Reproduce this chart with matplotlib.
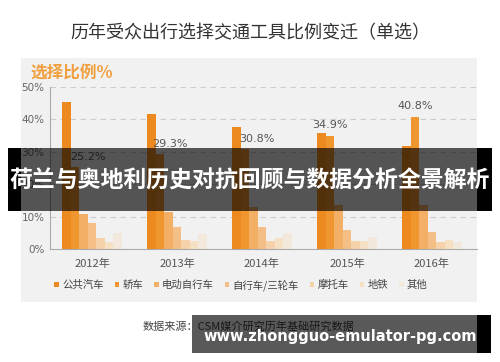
import matplotlib
matplotlib.use("Agg")
import matplotlib.pyplot as plt
from matplotlib.patches import Rectangle
import numpy as np

plt.rcParams['font.family'] = ['Noto Sans CJK SC', 'DejaVu Sans']

years = ['2012年', '2013年', '2014年', '2015年', '2016年']
modes = ['公共汽车', '轿车', '电动自行车', '自行车/三轮车', '摩托车', '地铁', '其他']
bus = [45.3, 41.6, 37.8, 35.9, 31.8]
car = [25.2, 29.3, 30.8, 34.9, 40.8]
ebike = [10.8, 11.5, 13.1, 13.6, 13.6]
bicycle = [8.1, 6.8, 6.9, 5.9, 5.2]
moto = [3.3, 2.8, 2.6, 2.6, 2.1]
subway = [2.3, 2.6, 3.4, 2.6, 2.8]
other = [4.9, 4.6, 4.8, 3.8, 2.2]
car_labels = ['25.2%', '29.3%', '30.8%', '34.9%', '40.8%']
yticks = [0, 10, 20, 30, 40, 50]
ytick_labels = ['0%', '10%', '20%', '30%', '40%', '50%']

series = [bus, car, ebike, bicycle, moto, subway, other]
colors = ['#EC8A1F', '#F0962E', '#F3AF65', '#F4BF86', '#F6D2AA', '#F6E0C4', '#F2E9DC']

W, H = 500, 362
fig = plt.figure(figsize=(W / 100, H / 100), dpi=100)
fig.patch.set_facecolor('white')

def fx(px):
    return px / W

def fy(py):
    return 1 - py / H

# gray panel
fig.add_artist(Rectangle((fx(21), fy(302)), fx(477) - fx(21), fy(58) - fy(302),
                         transform=fig.transFigure, facecolor='#F1F1F1', edgecolor='none', zorder=-1))

ax = fig.add_axes([fx(50), fy(249), fx(477) - fx(50), fy(87) - fy(249)])
ax.set_facecolor('none')

x = np.arange(len(years))
bw = 0.1
offsets = (np.arange(len(series)) - 3) * bw
bars = []
for s, vals, c, off in zip(modes, series, colors, offsets):
    b = ax.bar(x + off, vals, width=bw, color=c, label=s, zorder=2)
    bars.append(b)

label_dx = [0.15, 0.12, 0.14, 0.0, 0.0]
for i, (v, lab) in enumerate(zip(car, car_labels)):
    ax.annotate(lab, (x[i] + offsets[1] + label_dx[i], v), xytext=(0, 4),
                textcoords='offset points', ha='center', va='bottom',
                fontsize=8, color='#555555', family=['DejaVu Sans'])

ax.set_xlim(-0.494, 4.53)
ax.set_ylim(0, 50)
ax.set_yticks(yticks)
ax.set_yticklabels(ytick_labels, fontsize=7.5, color='#666666', family=['DejaVu Sans'])
ax.set_xticks(x)
ax.set_xticklabels(years, fontsize=8, color='#555555')
ax.tick_params(axis='both', length=0)
ax.tick_params(axis='y', pad=4)
ax.tick_params(axis='x', pad=7)
for yv in yticks[1:]:
    ax.axhline(yv, color='#CCCCCC', linestyle=(0, (5, 4)), linewidth=0.8, zorder=1)
for sp in ['top', 'right']:
    ax.spines[sp].set_visible(False)
ax.spines['left'].set_color('#AAAAAA')
ax.spines['bottom'].set_color('#AAAAAA')

leg = ax.legend(loc='center', bbox_to_anchor=(fx(241), fy(285)), bbox_transform=fig.transFigure,
                ncol=7, frameon=False, fontsize=7.5, handlelength=0.45, handleheight=0.45,
                handletextpad=0.3, columnspacing=1.05, labelcolor='#444444')

# titles
fig.text(fx(250), fy(33), '历年受众出行选择交通工具比例变迁（单选）', ha='center', va='center',
         fontsize=13, color='#333333')
fig.text(fx(30), fy(73), '选择比例%', ha='left', va='center', fontsize=12,
         color='#F0A040', fontweight='bold')

# source
fig.text(fx(143), fy(327), '数据来源：CSM媒介研究历年基础研究数据', ha='left', va='center',
         fontsize=8, color='#444444')

# overlay banner 1
fig.add_artist(Rectangle((fx(21), fy(211)), fx(477) - fx(21), fy(148) - fy(211),
                         transform=fig.transFigure, facecolor='black', alpha=0.65,
                         edgecolor='none', zorder=5))
for a, b in [(8, 21), (477, 492)]:
    fig.add_artist(Rectangle((fx(a), fy(211)), fx(b) - fx(a), fy(148) - fy(211),
                             transform=fig.transFigure, facecolor='black',
                             edgecolor='none', zorder=5))
fig.text(fx(250), fy(181), '荷兰与奥地利历史对抗回顾与数据分析全景解析', ha='center', va='center',
         fontsize=16.5, color='white', fontweight='bold', zorder=6)

# overlay banner 2
fig.add_artist(Rectangle((fx(192), fy(353)), fx(477) - fx(192), fy(315) - fy(353),
                         transform=fig.transFigure, facecolor='black', alpha=0.65,
                         edgecolor='none', zorder=5))
fig.add_artist(Rectangle((fx(477), fy(353)), fx(491) - fx(477), fy(315) - fy(353),
                         transform=fig.transFigure, facecolor='black',
                         edgecolor='none', zorder=5))
fig.text(fx(340), fy(336), 'www.zhongguo-emulator-pg.com', ha='center', va='center',
         fontsize=10.5, color='white', fontweight='bold', family=['DejaVu Sans'], zorder=6)

fig.savefig('out.png', dpi=100)
